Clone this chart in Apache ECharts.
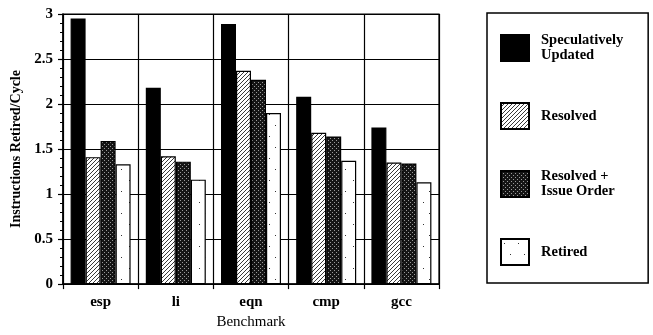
<!DOCTYPE html>
<html>
<head>
<meta charset="utf-8">
<script src="https://cdn.jsdelivr.net/npm/echarts@6/dist/echarts.min.js"></script>
<style>
  html, body { margin: 0; padding: 0; background: #fff; }
  #chart { width: 653px; height: 335px; }
</style>
</head>
<body>
<div id="chart"></div>
<script>
// data
const benchmarks = ['esp', 'li', 'eqn', 'cmp', 'gcc'];
const seriesNames = ['Speculatively Updated', 'Resolved', 'Resolved + Issue Order', 'Retired'];
const legendLabels = ['Speculatively\nUpdated', 'Resolved', 'Resolved +\nIssue Order', 'Retired'];
const speculative = [2.95, 2.18, 2.89, 2.08, 1.74];
const resolved = [1.41, 1.42, 2.37, 1.68, 1.35];
const issueOrder = [1.59, 1.36, 2.27, 1.64, 1.34];
const retired = [1.33, 1.16, 1.90, 1.37, 1.13];

const FONT = '"Liberation Serif", "DejaVu Serif", serif';

// fill patterns (canvas tiles)
const makeTile = (w, h, draw) => {
  const c = document.createElement('canvas');
  c.width = w; c.height = h;
  const ctx = c.getContext('2d');
  draw(ctx);
  return { image: c, repeat: 'repeat' };
};

const hatchFill = makeTile(4, 4, ctx => {
  ctx.fillStyle = '#fff';
  ctx.fillRect(0, 0, 4, 4);
  ctx.strokeStyle = '#222';
  ctx.lineWidth = 0.9;
  ctx.beginPath();
  ctx.moveTo(0, 4); ctx.lineTo(4, 0);
  ctx.moveTo(-1, 1); ctx.lineTo(1, -1);
  ctx.moveTo(3, 5); ctx.lineTo(5, 3);
  ctx.stroke();
});

const stippleFill = makeTile(4, 4, ctx => {
  ctx.fillStyle = '#151515';
  ctx.fillRect(0, 0, 4, 4);
  ctx.fillStyle = '#9a9a9a';
  ctx.fillRect(0, 0, 1, 1);
  ctx.fillRect(2, 2, 1, 1);
});

const sparseFill = makeTile(14, 22, ctx => {
  ctx.fillStyle = '#fff';
  ctx.fillRect(0, 0, 14, 22);
  ctx.fillStyle = '#333';
  ctx.fillRect(3, 4, 1, 1);
  ctx.fillRect(9, 15, 1, 1);
});

const fills = ['#000', hatchFill, stippleFill, sparseFill];
const values = [speculative, resolved, issueOrder, retired];

const myChart = echarts.init(document.getElementById('chart'), null, { renderer: 'canvas' });

const option = {
  backgroundColor: '#fff',
  animation: false,
  grid: { left: 63, right: 214, top: 14, bottom: 44, show: true, borderColor: '#000', borderWidth: 1.2 },
  legend: {
    orient: 'vertical',
    left: 487,
    top: 13,
    padding: [20, 25, 17, 13],
    itemWidth: 28,
    itemHeight: 26,
    itemGap: 39,
    borderColor: '#000',
    borderWidth: 1.5,
    icon: 'rect',
    data: seriesNames,
    formatter: name => legendLabels[seriesNames.indexOf(name)],
    textStyle: {
      fontFamily: FONT,
      fontWeight: 'bold',
      fontSize: 14.5,
      lineHeight: 15,
      color: '#000',
      padding: [0, 0, 0, 7]
    }
  },
  xAxis: {
    type: 'category',
    data: benchmarks,
    name: 'Benchmark',
    nameLocation: 'middle',
    nameGap: 28,
    nameTextStyle: { fontFamily: FONT, fontSize: 15, color: '#000' },
    axisLine: { lineStyle: { color: '#000', width: 1.5 } },
    axisTick: { show: true, length: 5, lineStyle: { color: '#000', width: 1.2 } },
    axisLabel: { fontFamily: FONT, fontWeight: 'bold', fontSize: 15, color: '#000', margin: 11 },
    splitLine: { show: true, lineStyle: { color: '#000', width: 1.2 } }
  },
  yAxis: {
    type: 'value',
    min: 0,
    max: 3,
    interval: 0.5,
    name: 'Instructions Retired/Cycle',
    nameLocation: 'middle',
    nameGap: 40,
    nameTextStyle: { fontFamily: FONT, fontWeight: 'bold', fontSize: 14, color: '#000' },
    axisLine: { show: true, lineStyle: { color: '#000', width: 1.5 } },
    axisTick: { show: true, length: 5, lineStyle: { color: '#000', width: 1.2 } },
    minorTick: { show: true, splitNumber: 5, length: 3, lineStyle: { color: '#000' } },
    axisLabel: { fontFamily: FONT, fontWeight: 'bold', fontSize: 15, color: '#000', margin: 10 },
    splitLine: { show: true, lineStyle: { color: '#000', width: 1.2 } }
  },
  series: seriesNames.map((name, i) => ({
    name: name,
    type: 'bar',
    data: values[i],
    barWidth: 15,
    barGap: '0%',
    itemStyle: {
      color: fills[i],
      borderColor: '#000',
      borderWidth: 1.2
    }
  }))
};

myChart.setOption(option);
</script>
</body>
</html>
